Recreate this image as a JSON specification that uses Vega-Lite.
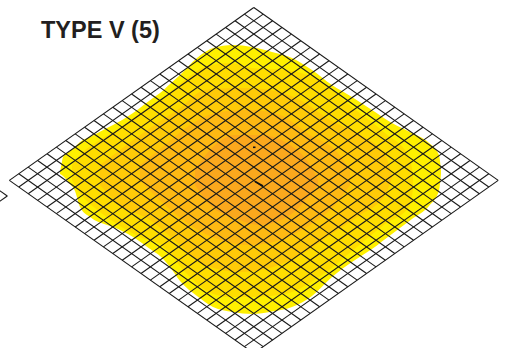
{"$schema":"https://vega.github.io/schema/vega-lite/v6.json","width":505,"height":348,"autosize":"none","padding":0,"background":"white","view":{"stroke":null},
"title":{"text":"TYPE V (5)","anchor":"start","frame":"group","orient":"top","offset":0,"dx":41,"dy":61,"baseline":"alphabetic","font":"Liberation Sans","fontWeight":"bold","fontSize":23.5,"color":"#231f20"},
"datasets":{
"blob":[
{"level":"1","x":60,"top":172,"bottom":174},{"level":"1","x":61.7,"top":163,"bottom":175},{"level":"1","x":63,"top":157,"bottom":176},{"level":"1","x":70,"top":151,"bottom":184},{"level":"1","x":75,"top":147,"bottom":191},{"level":"1","x":80,"top":142,"bottom":207},{"level":"1","x":90,"top":137,"bottom":217},{"level":"1","x":107,"top":128,"bottom":225},{"level":"1","x":113,"top":125,"bottom":227},{"level":"1","x":133,"top":113,"bottom":237},{"level":"1","x":153,"top":98,"bottom":251},{"level":"1","x":160,"top":93,"bottom":256},{"level":"1","x":170,"top":84,"bottom":267},{"level":"1","x":180,"top":75,"bottom":281},{"level":"1","x":197,"top":58,"bottom":296},{"level":"1","x":213,"top":48,"bottom":307},{"level":"1","x":233,"top":45,"bottom":312},{"level":"1","x":252,"top":47,"bottom":314},{"level":"1","x":272,"top":52,"bottom":311.5},{"level":"1","x":292,"top":58,"bottom":307},{"level":"1","x":312,"top":70,"bottom":296},{"level":"1","x":332,"top":85,"bottom":277},{"level":"1","x":352,"top":97,"bottom":262},{"level":"1","x":372,"top":110,"bottom":249},{"level":"1","x":392,"top":123,"bottom":234},{"level":"1","x":412,"top":133,"bottom":219},{"level":"1","x":429,"top":143,"bottom":206},{"level":"1","x":439,"top":155,"bottom":191},{"level":"1","x":441,"top":170,"bottom":174},
{"level":"2","x":72,"top":165,"bottom":180},{"level":"2","x":80,"top":155,"bottom":193},{"level":"2","x":100,"top":140,"bottom":212},{"level":"2","x":117,"top":130,"bottom":224},{"level":"2","x":140,"top":113,"bottom":237},{"level":"2","x":160,"top":100,"bottom":244},{"level":"2","x":187,"top":78,"bottom":274},{"level":"2","x":207,"top":66,"bottom":291},{"level":"2","x":230,"top":63,"bottom":297},{"level":"2","x":252,"top":68,"bottom":297},{"level":"2","x":285,"top":70,"bottom":294},{"level":"2","x":319,"top":80,"bottom":277},{"level":"2","x":352,"top":107,"bottom":251},{"level":"2","x":385,"top":133,"bottom":224},{"level":"2","x":409,"top":157,"bottom":207},{"level":"2","x":413,"top":173,"bottom":190},
{"level":"3","x":100,"top":165,"bottom":185},{"level":"3","x":120,"top":150,"bottom":205},{"level":"3","x":150,"top":128,"bottom":220},{"level":"3","x":180,"top":108,"bottom":245},{"level":"3","x":205,"top":90,"bottom":265},{"level":"3","x":240,"top":88,"bottom":272},{"level":"3","x":270,"top":90,"bottom":268},{"level":"3","x":300,"top":100,"bottom":255},{"level":"3","x":330,"top":120,"bottom":235},{"level":"3","x":360,"top":135,"bottom":215},{"level":"3","x":385,"top":155,"bottom":195},{"level":"3","x":392,"top":175,"bottom":178},
{"level":"4","x":140,"top":165,"bottom":180},{"level":"4","x":165,"top":145,"bottom":205},{"level":"4","x":190,"top":125,"bottom":225},{"level":"4","x":220,"top":112,"bottom":240},{"level":"4","x":250,"top":110,"bottom":245},{"level":"4","x":280,"top":115,"bottom":240},{"level":"4","x":310,"top":135,"bottom":225},{"level":"4","x":335,"top":150,"bottom":205},{"level":"4","x":350,"top":170,"bottom":185},
{"level":"5","x":195,"top":170,"bottom":185},{"level":"5","x":210,"top":150,"bottom":205},{"level":"5","x":235,"top":135,"bottom":218},{"level":"5","x":260,"top":135,"bottom":225},{"level":"5","x":290,"top":145,"bottom":215},{"level":"5","x":310,"top":165,"bottom":195},{"level":"5","x":318,"top":180,"bottom":185}
],
"grid":[
{"x":253.8,"y":7.5,"x2":498.2,"y2":180.4},{"x":244.4,"y":14.15,"x2":488.8,"y2":187.05},{"x":235,"y":20.8,"x2":479.4,"y2":193.7},{"x":225.6,"y":27.45,"x2":470,"y2":200.35},{"x":216.2,"y":34.1,"x2":460.6,"y2":207},{"x":206.8,"y":40.75,"x2":451.2,"y2":213.65},{"x":197.4,"y":47.4,"x2":441.8,"y2":220.3},{"x":188,"y":54.05,"x2":432.4,"y2":226.95},{"x":178.6,"y":60.7,"x2":423,"y2":233.6},{"x":169.2,"y":67.35,"x2":413.6,"y2":240.25},{"x":159.8,"y":74,"x2":404.2,"y2":246.9},{"x":150.4,"y":80.65,"x2":394.8,"y2":253.55},{"x":141,"y":87.3,"x2":385.4,"y2":260.2},{"x":131.6,"y":93.95,"x2":376,"y2":266.85},{"x":122.2,"y":100.6,"x2":366.6,"y2":273.5},{"x":112.8,"y":107.25,"x2":357.2,"y2":280.15},{"x":103.4,"y":113.9,"x2":347.8,"y2":286.8},{"x":94,"y":120.55,"x2":338.4,"y2":293.45},{"x":84.6,"y":127.2,"x2":329,"y2":300.1},{"x":75.2,"y":133.85,"x2":319.6,"y2":306.75},{"x":65.8,"y":140.5,"x2":310.2,"y2":313.4},{"x":56.4,"y":147.15,"x2":300.8,"y2":320.05},{"x":47,"y":153.8,"x2":291.4,"y2":326.7},{"x":37.6,"y":160.45,"x2":282,"y2":333.35},{"x":28.2,"y":167.1,"x2":272.6,"y2":340},{"x":18.8,"y":173.75,"x2":263.2,"y2":346.65},{"x":9.4,"y":180.4,"x2":253.8,"y2":353.3},
{"x":253.8,"y":7.5,"x2":9.4,"y2":180.4},{"x":263.2,"y":14.15,"x2":18.8,"y2":187.05},{"x":272.6,"y":20.8,"x2":28.2,"y2":193.7},{"x":282,"y":27.45,"x2":37.6,"y2":200.35},{"x":291.4,"y":34.1,"x2":47,"y2":207},{"x":300.8,"y":40.75,"x2":56.4,"y2":213.65},{"x":310.2,"y":47.4,"x2":65.8,"y2":220.3},{"x":319.6,"y":54.05,"x2":75.2,"y2":226.95},{"x":329,"y":60.7,"x2":84.6,"y2":233.6},{"x":338.4,"y":67.35,"x2":94,"y2":240.25},{"x":347.8,"y":74,"x2":103.4,"y2":246.9},{"x":357.2,"y":80.65,"x2":112.8,"y2":253.55},{"x":366.6,"y":87.3,"x2":122.2,"y2":260.2},{"x":376,"y":93.95,"x2":131.6,"y2":266.85},{"x":385.4,"y":100.6,"x2":141,"y2":273.5},{"x":394.8,"y":107.25,"x2":150.4,"y2":280.15},{"x":404.2,"y":113.9,"x2":159.8,"y2":286.8},{"x":413.6,"y":120.55,"x2":169.2,"y2":293.45},{"x":423,"y":127.2,"x2":178.6,"y2":300.1},{"x":432.4,"y":133.85,"x2":188,"y2":306.75},{"x":441.8,"y":140.5,"x2":197.4,"y2":313.4},{"x":451.2,"y":147.15,"x2":206.8,"y2":320.05},{"x":460.6,"y":153.8,"x2":216.2,"y2":326.7},{"x":470,"y":160.45,"x2":225.6,"y2":333.35},{"x":479.4,"y":167.1,"x2":235,"y2":340},{"x":488.8,"y":173.75,"x2":244.4,"y2":346.65},{"x":498.2,"y":180.4,"x2":253.8,"y2":353.3},
{"x":-2.1,"y":189.5,"x2":7.3,"y2":196},{"x":7.3,"y":196,"x2":-2.1,"y2":202.6}
],
"marks":[{"x":253,"y":147.3,"x2":255.5,"y2":147.3},{"x":255,"y":181.5,"x2":263,"y2":186}]
},
"layer":[
{"data":{"name":"blob"},"mark":{"type":"area","interpolate":"monotone","clip":true},
"encoding":{"x":{"field":"x","type":"quantitative","scale":{"domain":[0,505],"nice":false,"zero":false},"axis":null},"y":{"field":"top","type":"quantitative","scale":{"domain":[348,0],"nice":false,"zero":false},"axis":null},"y2":{"field":"bottom"},"color":{"field":"level","type":"nominal","legend":null,"scale":{"domain":["1","2","3","4","5"],"range":["#FFF000","#FFDD00","#FFCA08","#FEB913","#FBA81D"]}}}},
{"data":{"name":"grid"},"mark":{"type":"rule","clip":true,"stroke":"#1a1a1a","strokeWidth":1.1},
"encoding":{"x":{"field":"x","type":"quantitative","scale":{"domain":[0,505],"nice":false,"zero":false},"axis":null},"y":{"field":"y","type":"quantitative","scale":{"domain":[348,0],"nice":false,"zero":false},"axis":null},"x2":{"field":"x2"},"y2":{"field":"y2"}}},
{"data":{"name":"marks"},"mark":{"type":"rule","clip":true,"stroke":"#111111","strokeWidth":1.6},
"encoding":{"x":{"field":"x","type":"quantitative","scale":{"domain":[0,505],"nice":false,"zero":false},"axis":null},"y":{"field":"y","type":"quantitative","scale":{"domain":[348,0],"nice":false,"zero":false},"axis":null},"x2":{"field":"x2"},"y2":{"field":"y2"}}}
]}
